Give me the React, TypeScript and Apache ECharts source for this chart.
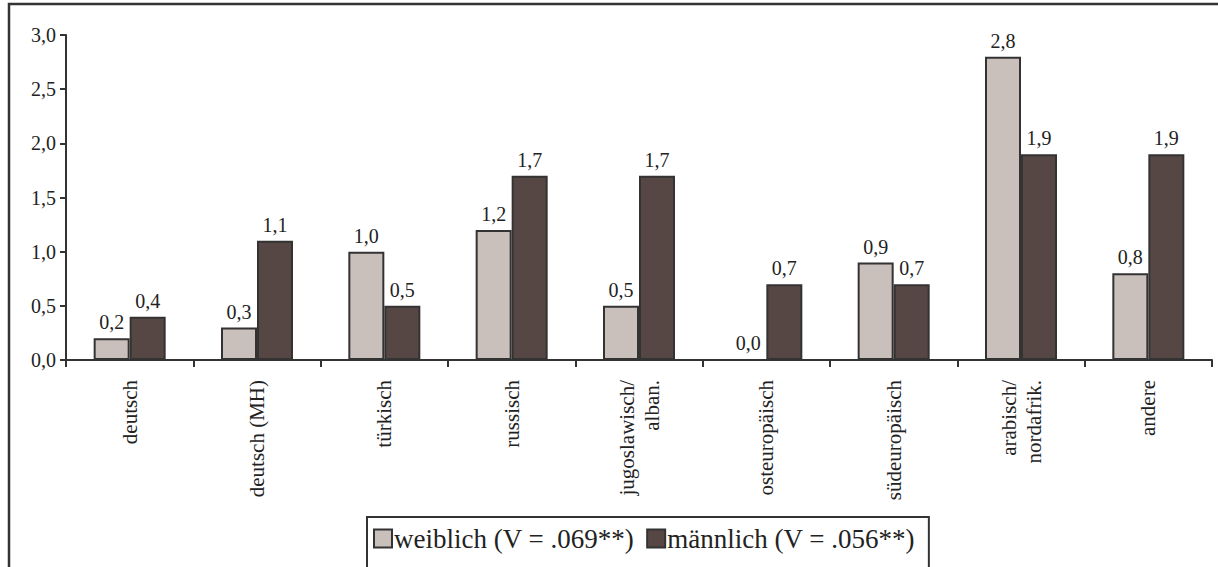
import React, { useEffect, useRef } from "react";
import * as echarts from "echarts";

const categories = [
  "deutsch",
  "deutsch (MH)",
  "türkisch",
  "russisch",
  "jugoslawisch/\nalban.",
  "osteuropäisch",
  "südeuropäisch",
  "arabisch/\nnordafrik.",
  "andere",
];
const weiblich = [0.2, 0.3, 1.0, 1.2, 0.5, 0.0, 0.9, 2.8, 0.8];
const maennlich = [0.4, 1.1, 0.5, 1.7, 1.7, 0.7, 0.7, 1.9, 1.9];
const seriesNames = ["weiblich (V = .069**)", "männlich (V = .056**)"];

const FONT = "Liberation Serif";
const fmt = (v: number) => v.toFixed(1).replace(".", ",");

export default function App() {
  const ref = useRef<HTMLDivElement>(null);
  useEffect(() => {
    if (!ref.current) return;
    const chart = echarts.init(ref.current, undefined, { renderer: "svg" });
    const label = {
      show: true,
      position: "top" as const,
      distance: 6,
      fontFamily: FONT,
      fontSize: 20,
      color: "#222",
      formatter: (p: any) => fmt(p.value),
    };
    chart.setOption({
      animation: false,
      textStyle: { fontFamily: FONT },
      graphic: [
        {
          type: "rect",
          shape: { x: 9, y: 4, width: 1230, height: 600 },
          style: { fill: "none", stroke: "#333", lineWidth: 2.5 },
          silent: true,
        },
      ],
      grid: { left: 66, right: 6, top: 35, bottom: 207, containLabel: false },
      legend: {
        top: 517,
        left: 367,
        itemWidth: 18,
        itemHeight: 18,
        itemGap: 12,
        padding: [8, 14, 20, 6],
        borderColor: "#333",
        borderWidth: 2,
        itemStyle: { borderColor: "#333", borderWidth: 2 },
        textStyle: { fontFamily: FONT, fontSize: 27, color: "#222", padding: [0, 0, 0, -3] },
        data: seriesNames.map((n) => ({ name: n, icon: "rect" })),
      },
      xAxis: {
        type: "category",
        data: categories,
        axisLine: { lineStyle: { color: "#333", width: 2 } },
        axisTick: { show: true, length: 7, lineStyle: { color: "#333", width: 2 } },
        axisLabel: {
          rotate: 90,
          margin: 20,
          fontFamily: FONT,
          fontSize: 21,
          color: "#222",
          align: "right",
          lineHeight: 25,
        },
      },
      yAxis: {
        type: "value",
        min: 0,
        max: 3,
        interval: 0.5,
        axisLine: { show: true, lineStyle: { color: "#333", width: 2 } },
        axisTick: { show: true, length: 6, lineStyle: { color: "#333", width: 2 } },
        splitLine: { show: false },
        axisLabel: {
          fontFamily: FONT,
          fontSize: 20,
          color: "#222",
          margin: 10,
          formatter: (v: number) => fmt(v),
        },
      },
      series: [
        {
          name: seriesNames[0],
          type: "bar",
          data: weiblich,
          barWidth: 36,
          barGap: "0%",
          itemStyle: { color: "#c9bfbb", borderColor: "#333", borderWidth: 2 },
          label,
        },
        {
          name: seriesNames[1],
          type: "bar",
          data: maennlich,
          barWidth: 36,
          barGap: "0%",
          itemStyle: { color: "#574744", borderColor: "#333", borderWidth: 2 },
          label,
        },
      ],
    });
    return () => chart.dispose();
  }, []);
  return (
    <div
      ref={ref}
      style={{ position: "absolute", left: 0, top: 0, width: 1218, height: 567, background: "#fff" }}
    />
  );
}
